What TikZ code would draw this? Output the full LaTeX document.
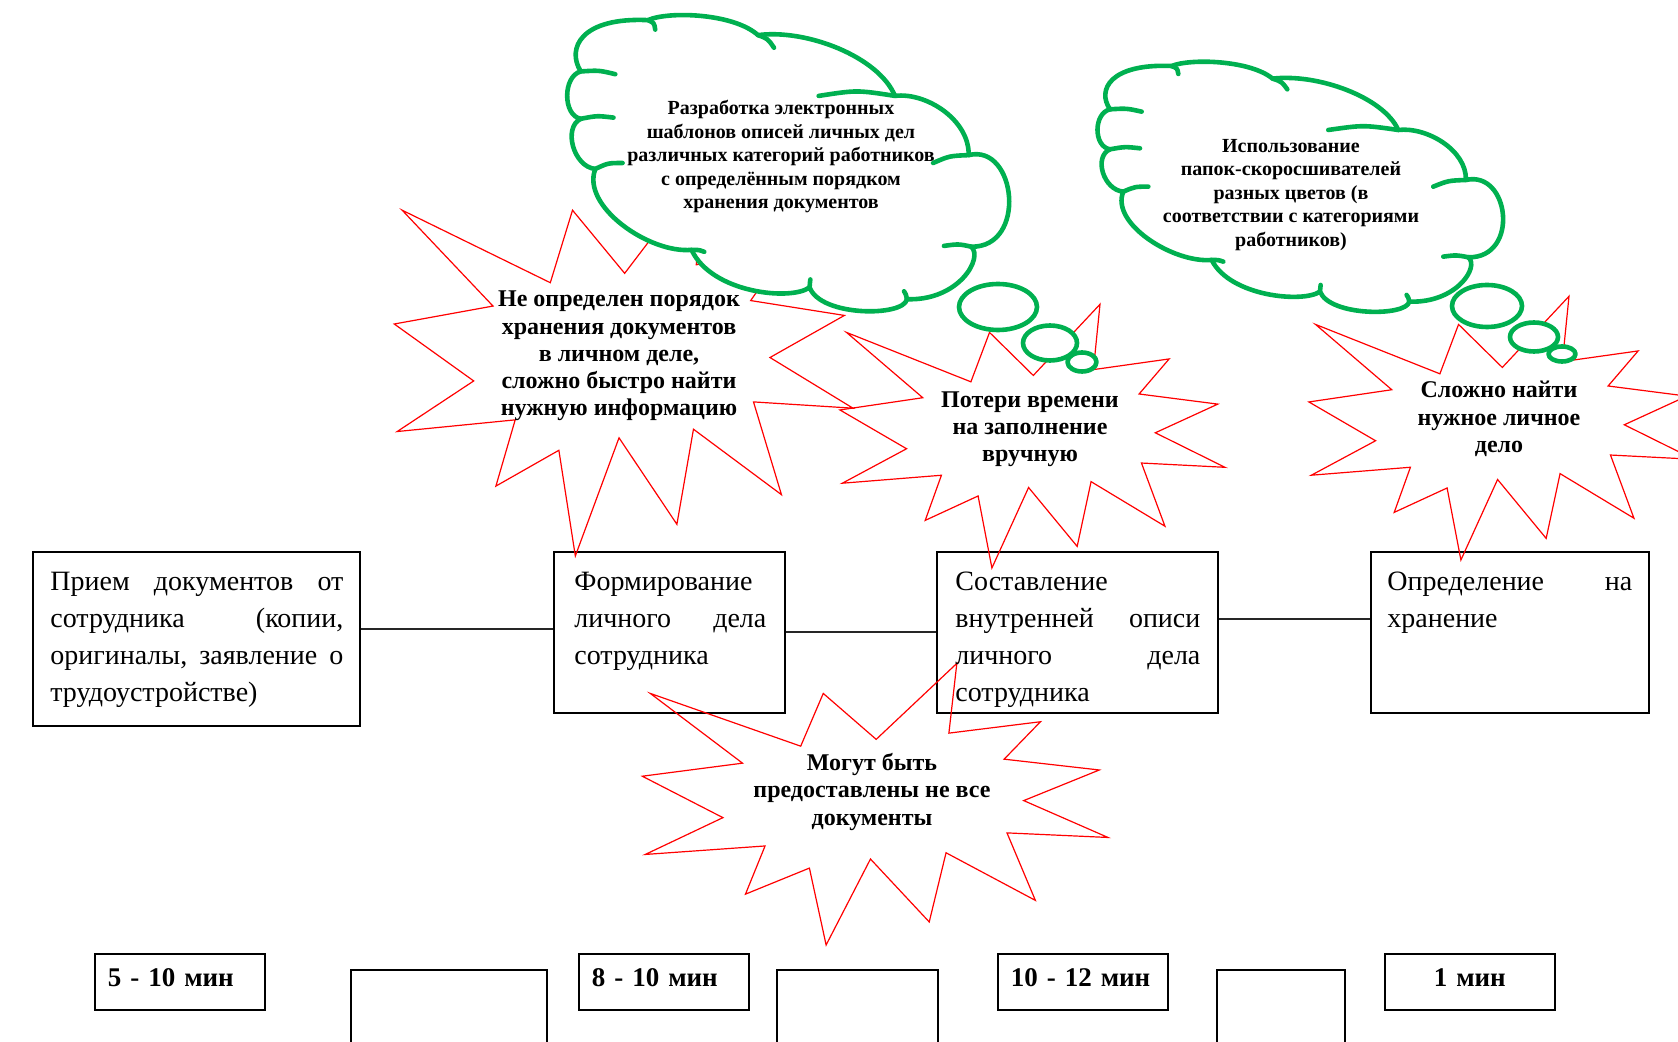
\documentclass[tikz,border=0pt]{standalone}
\usepackage{fontspec}
\setmainfont{Liberation Serif}
\usetikzlibrary{positioning}

\definecolor{burstred}{RGB}{255,0,0}
\definecolor{cloudgreen}{RGB}{0,176,80}

\tikzset{
  procbox/.style={draw, line width=0.8pt, inner sep=0pt, anchor=north west},
  proctext/.style={inner sep=0pt, anchor=base west, font=\fontsize{14}{18.4}\selectfont},
  timebox/.style={draw, line width=0.8pt, anchor=north west, minimum height=28pt,
    inner xsep=6.5pt, text width=72pt, align=left, text depth=4.5pt,
    font=\bfseries\fontsize{13.5}{16}\selectfont},
  link/.style={line width=0.8pt, draw=black!85},
  burst/.style={draw=burstred, line width=0.6pt, line join=miter},
  cloudline/.style={draw=cloudgreen, line width=2.3pt, line join=round, line cap=round},
  bursttext/.style={align=center, font=\bfseries\fontsize{12}{13.6}\selectfont},
  cloudtext/.style={align=center, font=\bfseries\fontsize{10}{11.75}\selectfont}
}

% explosion outline in a 21.6 x 21.6 box: x0, y0, width, height (px)
\newcommand{\explosion}[4]{%
  \begin{scope}[shift={(#1,#2)}, x=#3*0.5pt/21.6, y=-#4*0.5pt/21.6]
    \draw[burst] (10.901,5.905) -- (8.458,2.399) -- (7.417,6.425) -- (0.476,2.399)
      -- (4.732,7.722) -- (0.106,8.718) -- (3.828,11.880) -- (0.243,14.689)
      -- (5.772,14.041) -- (4.868,17.719) -- (7.819,15.730) -- (8.590,21.600)
      -- (10.637,15.038) -- (13.349,19.840) -- (14.125,14.561) -- (18.248,18.195)
      -- (16.938,13.044) -- (21.600,13.393) -- (17.710,10.579) -- (21.198,8.242)
      -- (16.806,7.417) -- (18.482,4.560) -- (14.257,5.429) -- (14.623,0.106) -- cycle;
  \end{scope}}

% cloud of puffs: shift x, shift y, x scale, y scale (px per unit)
\newcommand{\puffcloud}[4]{%
  \begin{scope}[shift={(#1,#2)}, x=#3*0.5pt, y=-#4*0.5pt]
    \draw[cloudline, fill=white] (60,178)
      \foreach \p/\q/\e in {{20,120}/{60,40}/{245,48}, {300,25}/{480,30}/{548,86},
          {680,70}/{880,140}/{925,240}, {1010,230}/{1130,300}/{1128,390},
          {1260,360}/{1290,625}/{1135,622}, {1170,650}/{1100,760}/{958,755},
          {950,800}/{720,800}/{690,725}, {640,760}/{420,740}/{365,630},
          {250,640}/{60,520}/{100,425}, {40,420}/{10,320}/{60,298},
          {10,290}/{10,190}/{60,178}}
        { .. controls (\p) and (\q) .. (\e) }
      -- cycle;
    % inner hooks
    \foreach \s/\c/\e in {{60,178}/{110,175}/{155,185}, {245,48}/{262,55}/{265,72},
        {548,86}/{575,95}/{592,118}, {925,240}/{820,225}/{715,240},
        {1128,390}/{1075,392}/{1030,410}, {1135,622}/{1100,615}/{1060,620},
        {958,755}/{955,742}/{950,735}, {690,725}/{691,712}/{692,705},
        {365,630}/{385,630}/{400,635}, {100,425}/{135,410}/{175,410},
        {60,298}/{105,290}/{150,295}}
      \draw[cloudline] (\s) .. controls (\c) .. (\e);
  \end{scope}}

\begin{document}
\begin{tikzpicture}[x=0.5pt, y=-0.5pt]
\useasboundingbox (0,0) rectangle (1678,1042);
\clip (0,0) rectangle (1678,1042);

% process boxes
\node[procbox, minimum width=163.5pt, minimum height=87pt] (b1) at (32,551) {};
\node[procbox, minimum width=115.5pt, minimum height=80.5pt] (b2) at (553,551) {};
\node[procbox, minimum width=140.5pt, minimum height=80.5pt] (b3) at (936,551) {};
\node[procbox, minimum width=139pt, minimum height=80.5pt] (b4) at (1370,551) {};

\draw[link] ([yshift=1.75pt]b2.west -| b1.east) -- ([yshift=1.75pt]b2.west);
\draw[link] (b2.east) -- (b3.west);
\draw[link] ([yshift=6.75pt]b3.east) -- ([yshift=6.75pt]b4.west);

% time boxes
\node[timebox] (m1) at (94,953) {5 - 10 мин};
\node[timebox] (m2) at (578,953) {8 - 10 мин};
\node[timebox] (m3) at (997,953) {10 - 12 мин};
\node[timebox, align=center] (m4) at (1384,953) {1 мин};
\node[procbox, minimum width=98pt, minimum height=50pt] (e1) at (350,969) {};
\node[procbox, minimum width=80.5pt, minimum height=50pt] (e2) at (776,969) {};
\node[procbox, minimum width=64pt, minimum height=50pt] (e3) at (1216,969) {};

% problems
\explosion{392}{167}{461}{389}
\explosion{838}{303}{387}{265}
\explosion{1307}{295}{387}{265}
\explosion{640}{662}{468}{283}

% ideas
\puffcloud{559}{1.2}{0.3632}{0.3947}
\draw[cloudline, fill=white] (998,307) ellipse [x radius=39, y radius=23];
\draw[cloudline, fill=white] (1050,343) ellipse [x radius=27, y radius=17.5];
\draw[cloudline, fill=white] (1082,362) ellipse [x radius=14.5, y radius=9.5];
\puffcloud{1090}{50}{0.3333}{0.3333}
\draw[cloudline, fill=white] (1487,306) ellipse [x radius=35, y radius=21];
\draw[cloudline, fill=white] (1534,337) ellipse [x radius=24, y radius=14.5];
\draw[cloudline, fill=white] (1562,354) ellipse [x radius=13.5, y radius=7.5];

% texts
\node[proctext] (b1t) at ([xshift=9pt, yshift=-20pt]b1.north west)
  {\parbox[t]{146.5pt}{Прием\hfill документов\hfill от\\сотрудника\hfill (копии,\\оригиналы,\hfill заявление\hfill о\\трудоустройстве)}};
\node[proctext] (b2t) at ([xshift=10.5pt, yshift=-20pt]b2.north west)
  {\parbox[t]{96pt}{Формирование\\личного\hfill дела\\сотрудника}};
\node[proctext] (b3t) at ([xshift=9.5pt, yshift=-20pt]b3.north west)
  {\parbox[t]{122.5pt}{Составление\\внутренней\hfill описи\\личного\hfill дела\\сотрудника}};
\node[proctext] (b4t) at ([xshift=8.5pt, yshift=-20pt]b4.north west)
  {\parbox[t]{122.5pt}{Определение\hfill на\\хранение}};

\node[bursttext] (s1) at (619,356) {Не определен порядок\\хранения документов\\в личном деле,\\сложно быстро найти\\нужную информацию};
\node[bursttext] (s2) at (1030,429) {Потери времени\\на заполнение\\вручную};
\node[bursttext] (s3) at (1499,419) {Сложно найти\\нужное личное\\дело};
\node[bursttext] (s4) at (872,792) {Могут быть\\предоставлены не все\\документы};

\node[cloudtext] (c1) at (781,157) {Разработка электронных\\шаблонов описей личных дел\\различных категорий работников\\с определённым порядком\\хранения документов};
\node[cloudtext] (c2) at (1291,195) {Использование\\папок-скоросшивателей\\разных цветов (в\\соответствии с категориями\\работников)};
\end{tikzpicture}
\end{document}
